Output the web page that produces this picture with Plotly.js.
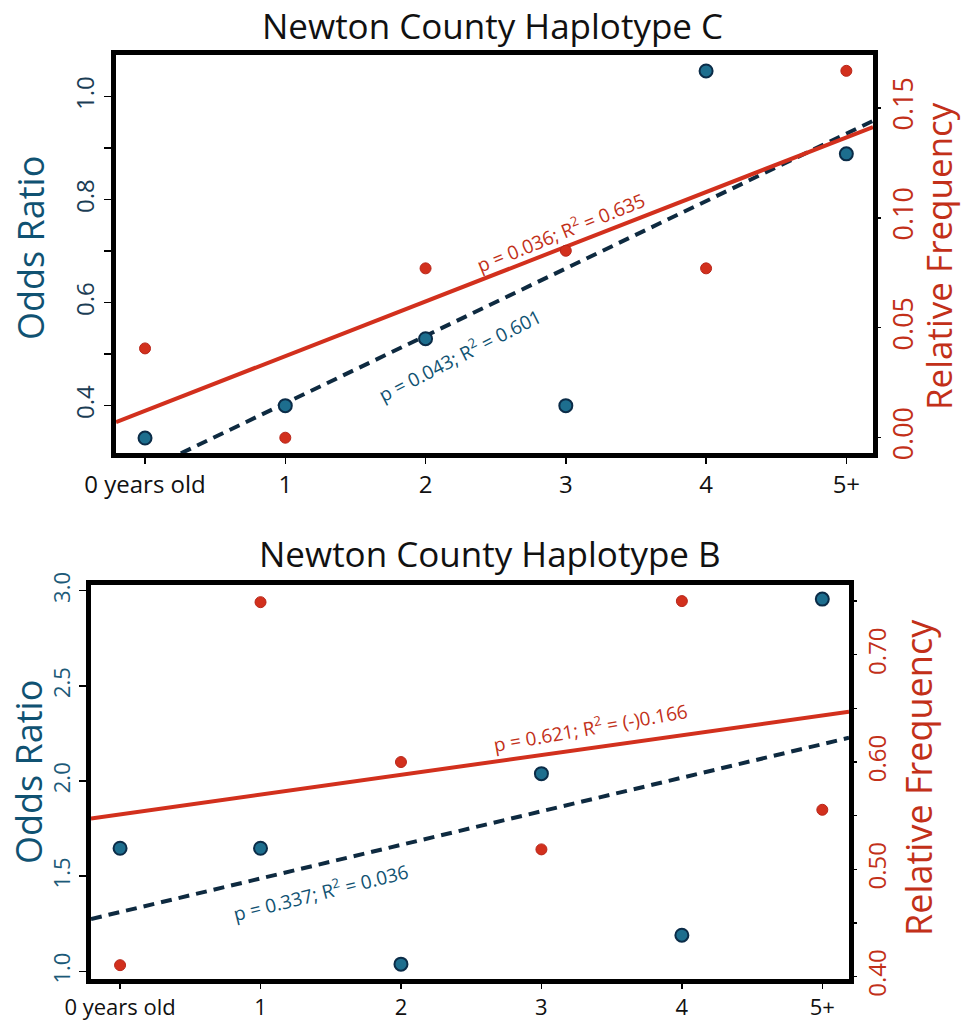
<!DOCTYPE html>
<html>
<head>
<meta charset="utf-8">
<script src="https://cdn.plot.ly/plotly-3.0.1.min.js"></script>
<style>html,body{margin:0;padding:0;background:#fff;}#chart{width:964px;height:1023px;}</style>
</head>
<body>
<div id="chart"></div>
<script>
// ---- data ----
const ageGroups = ["0 years old", "1", "2", "3", "4", "5+"];
const agePos = [0, 1, 2, 3, 4, 5];

// Haplotype C (top)
const cOddsRatio = [0.337, 0.400, 0.530, 0.400, 1.050, 0.889];
const cRelFreq   = [0.0406, 0.000, 0.077, 0.085, 0.077, 0.1668];
const cBlueLabel = "p = 0.043; R<sup>2</sup> = 0.601";
const cRedLabel  = "p = 0.036; R<sup>2</sup> = 0.635";

// Haplotype B (bottom)
const bOddsRatio = [1.647, 1.647, 1.038, 2.039, 1.190, 2.956];
const bRelFreq   = [0.4107, 0.749, 0.600, 0.5186, 0.750, 0.5555];
const bBlueLabel = "p = 0.337; R<sup>2</sup> = 0.036";
const bRedLabel  = "p = 0.621; R<sup>2</sup> = (-)0.166";

const titleC = "Newton County Haplotype C";
const titleB = "Newton County Haplotype B";

// tick labels
const cOddsTicks = [0.4, 0.5, 0.6, 0.7, 0.8, 0.9, 1.0];
const cOddsText  = ["0.4", "", "0.6", "", "0.8", "", "1.0"];
const cFreqTicks = [0.00, 0.05, 0.10, 0.15];
const cFreqText  = ["0.00", "0.05", "0.10", "0.15"];
const bOddsTicks = [1.0, 1.5, 2.0, 2.5, 3.0];
const bOddsText  = ["1.0", "1.5", "2.0", "2.5", "3.0"];
const bFreqTicks = [0.40, 0.45, 0.50, 0.55, 0.60, 0.65, 0.70, 0.75];
const bFreqText  = ["0.40", "", "0.50", "", "0.60", "", "0.70", ""];

// ---- helpers ----
function fit(xs, ys) {
  const n = xs.length;
  const mx = xs.reduce((a, b) => a + b, 0) / n;
  const my = ys.reduce((a, b) => a + b, 0) / n;
  let sxy = 0, sxx = 0;
  for (let i = 0; i < n; i++) { sxy += (xs[i] - mx) * (ys[i] - my); sxx += (xs[i] - mx) ** 2; }
  const slope = sxy / sxx;
  return { slope: slope, intercept: my - slope * mx };
}
const xRange = [-0.207, 5.19];
function fitLine(ys) {
  const f = fit(agePos, ys);
  return { x: xRange.slice(), y: xRange.map(v => f.intercept + f.slope * v) };
}

const BLUE_FILL = "#1d6e8e", BLUE_EDGE = "#0b2c48", BLUE_LINE = "#0e2a40";
const RED = "#d2301d", RED_TXT = "#c23019", TEAL_TXT = "#105272";
const FONT = "Open Sans, Noto Sans, sans-serif";

const cBlueFit = fitLine(cOddsRatio), cRedFit = fitLine(cRelFreq);
const bBlueFit = fitLine(bOddsRatio), bRedFit = fitLine(bRelFreq);

const traces = [
  // top
  { x: cRedFit.x, y: cRedFit.y, xaxis: "x", yaxis: "y2", mode: "lines", line: { color: RED, width: 4 }, hoverinfo: "skip" },
  { x: cBlueFit.x, y: cBlueFit.y, xaxis: "x", yaxis: "y", mode: "lines", line: { color: BLUE_LINE, width: 4, dash: "11px,7px" }, hoverinfo: "skip" },
  { x: agePos, y: cRelFreq, xaxis: "x", yaxis: "y2", mode: "markers", marker: { color: RED, size: 11, line: { color: "#b8261a", width: 1 } } },
  { x: agePos, y: cOddsRatio, xaxis: "x", yaxis: "y", mode: "markers", marker: { color: BLUE_FILL, size: 13, line: { color: BLUE_EDGE, width: 2 } } },
  // bottom
  { x: bRedFit.x, y: bRedFit.y, xaxis: "x2", yaxis: "y4", mode: "lines", line: { color: RED, width: 4 }, hoverinfo: "skip" },
  { x: bBlueFit.x, y: bBlueFit.y, xaxis: "x2", yaxis: "y3", mode: "lines", line: { color: BLUE_LINE, width: 4, dash: "11px,7px" }, hoverinfo: "skip" },
  { x: agePos, y: bRelFreq, xaxis: "x2", yaxis: "y4", mode: "markers", marker: { color: RED, size: 11, line: { color: "#b8261a", width: 1 } } },
  { x: agePos, y: bOddsRatio, xaxis: "x2", yaxis: "y3", mode: "markers", marker: { color: BLUE_FILL, size: 13, line: { color: BLUE_EDGE, width: 2 } } }
];

const xCommon = {
  range: xRange, tickvals: agePos, ticktext: ageGroups, ticks: "outside", ticklen: 6, tickwidth: 1.5, tickcolor: "#000",
  showline: true, linewidth: 5, linecolor: "#000", mirror: true, showgrid: false, zeroline: false,
  tickfont: { family: FONT, size: 24, color: "#111" }, fixedrange: true
};
const yCommon = {
  ticks: "outside", ticklen: 7, tickwidth: 1.5, tickcolor: "#000", showgrid: false, zeroline: false,
  tickangle: -90, fixedrange: true
};

function ann(text, x, y, size, color, angle, xref, yref) {
  return { text: text, xref: xref || "paper", yref: yref || "paper", x: x, y: y, textangle: angle || 0,
    showarrow: false, xanchor: "center", yanchor: "middle", borderpad: 0, font: { family: FONT, size: size, color: color } };
}

const layout = {
  width: 964, height: 1023,
  margin: { l: 0, r: 0, t: 0, b: 0 },
  paper_bgcolor: "#fff", plot_bgcolor: "#fff",
  showlegend: false,
  font: { family: FONT },
  xaxis: Object.assign({}, xCommon, { domain: [116 / 964, 873 / 964], anchor: "y" }),
  yaxis: Object.assign({}, yCommon, {
    domain: [1 - 453 / 1023, 1 - 55 / 1023], anchor: "x", range: [0.308, 1.081],
    tickvals: cOddsTicks, ticktext: cOddsText, showline: true, linewidth: 5, linecolor: "#000", mirror: true,
    tickfont: { family: FONT, size: 24, color: "#1b3d55" }
  }),
  yaxis2: Object.assign({}, yCommon, {
    overlaying: "y", side: "right", anchor: "x", range: [-0.00695, 0.174],
    tickvals: cFreqTicks, ticktext: cFreqText, showline: false,
    tickfont: { family: FONT, size: 27, color: RED_TXT }
  }),
  xaxis2: Object.assign({}, xCommon, {
    domain: [91 / 964, 849 / 964], anchor: "y3", ticklen: 5,
    tickfont: { family: FONT, size: 22, color: "#111" }
  }),
  yaxis3: Object.assign({}, yCommon, {
    domain: [1 - 979 / 1023, 1 - 585 / 1023], anchor: "x2", range: [0.96, 3.03],
    tickvals: bOddsTicks, ticktext: bOddsText, showline: true, linewidth: 5, linecolor: "#000", mirror: true,
    tickfont: { family: FONT, size: 22, color: "#1c5a78" }
  }),
  yaxis4: Object.assign({}, yCommon, {
    overlaying: "y3", side: "right", anchor: "x2", range: [0.3978, 0.765],
    tickvals: bFreqTicks, ticktext: bFreqText, showline: false,
    tickfont: { family: FONT, size: 24, color: RED_TXT }
  }),
  annotations: [
    ann(titleC, 493 / 964, 1 - 26 / 1023, 35, "#111"),
    ann(titleB, 490 / 964, 1 - 553 / 1023, 35, "#111"),
    ann("Odds Ratio", 30 / 964, 1 - 248 / 1023, 36, TEAL_TXT, -90),
    ann("Relative Frequency", 938 / 964, 1 - 256 / 1023, 35, RED_TXT, -90),
    ann("Odds Ratio", 28 / 964, 1 - 772 / 1023, 36, TEAL_TXT, -90),
    ann("Relative Frequency", 918 / 964, 1 - 778 / 1023, 36, RED_TXT, -90),
    ann(cRedLabel, 2.96, 0.0935, 19, RED_TXT, -22, "x", "y2"),
    ann(cBlueLabel, 2.24, 0.498, 19, TEAL_TXT, -27, "x", "y"),
    ann(bRedLabel, 3.35, 0.633, 19, RED_TXT, -10, "x2", "y4"),
    ann(bBlueLabel, 1.425, 1.418, 19, TEAL_TXT, -14, "x2", "y3")
  ]
};

Plotly.newPlot("chart", traces, layout, { staticPlot: true, displayModeBar: false });
</script>
</body>
</html>
